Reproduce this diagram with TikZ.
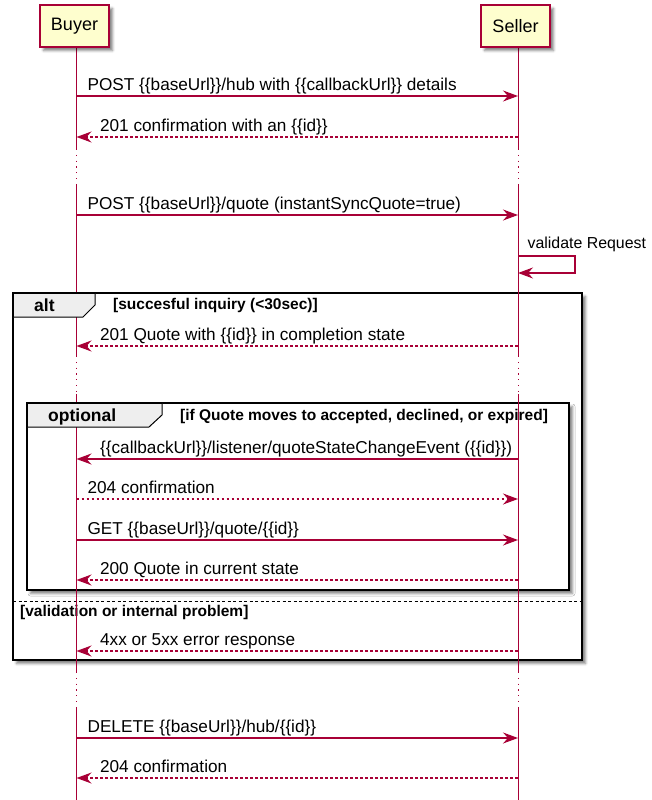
\documentclass[tikz,border=0pt]{standalone}
\usepackage{fontspec}
\setmainfont{Liberation Sans}
\usetikzlibrary{arrows.meta,shadows.blur}

\definecolor{lifered}{HTML}{A80036}
\definecolor{partfill}{HTML}{FEFECE}
\definecolor{tabfill}{HTML}{EEEEEE}

\begin{document}
\begin{tikzpicture}[x=1pt,y=-1pt,
  softshadow/.style={blur shadow={shadow xshift=3.5pt,shadow yshift=-3.5pt,
      shadow blur radius=2.5pt,shadow opacity=50}},
  part/.style={draw=lifered,line width=1.5pt,fill=partfill,minimum width=69pt,
      minimum height=42pt,inner sep=0pt,font=\fontsize{18}{21}\selectfont,softshadow},
  life/.style={draw=lifered,line width=1pt},
  lifegap/.style={life,dash pattern=on 1.2pt off 4.6pt},
  call/.style={draw=lifered,line width=1.2pt,
      -{Stealth[length=15pt,width=11pt,inset=5pt]}},
  reply/.style={call,dash pattern=on 2.6pt off 2.4pt},
  lbl/.style={inner sep=0pt,font=\fontsize{17.2}{20}\selectfont,text=black},
  fwd/.style={lbl,anchor=base west,xshift=10.5pt,yshift=6pt},
  back/.style={lbl,anchor=base west,xshift=23pt,yshift=6pt},
  framebody/.style={fill=white,softshadow},
  frameedge/.style={draw=black,line width=2.5pt},
  tabshape/.style={fill=tabfill,draw=black,line width=1pt},
  tablabel/.style={inner sep=0pt,anchor=base west,font=\fontsize{17.5}{20}\bfseries\selectfont},
  guard/.style={inner sep=0pt,anchor=base west,font=\fontsize{15.5}{18}\bfseries\selectfont},
  elseline/.style={draw=black,line width=1pt,dash pattern=on 3pt off 2.5pt}
]
\useasboundingbox (0,0) rectangle (652,800);

% lifeline columns
\coordinate (bl) at (76.5,0);
\coordinate (sl) at (518,0);
\coordinate (selfx) at (575,0);

% message rows
\coordinate (top) at (0,47);
\coordinate (r1) at (0,96);
\coordinate (r2) at (0,137);
\coordinate (g1a) at (0,149);
\coordinate (g1b) at (0,184);
\coordinate (r3) at (0,215);
\coordinate (r4a) at (0,256);
\coordinate (r4b) at (0,273);
\coordinate (r5) at (0,346);
\coordinate (g2a) at (0,356);
\coordinate (g2b) at (0,394);
\coordinate (r6) at (0,459);
\coordinate (r7) at (0,499);
\coordinate (r8) at (0,540);
\coordinate (r9) at (0,580);
\coordinate (r10) at (0,651);
\coordinate (g3a) at (0,672);
\coordinate (g3b) at (0,707);
\coordinate (r11) at (0,738);
\coordinate (r12) at (0,778);
\coordinate (bottom) at (0,800);

% alt frame and nested optional frame
\path[framebody] (13,293) rectangle (582,660);
\draw[frameedge] (13,293) rectangle (582,660);
\path[framebody] (27,403) rectangle (569,590);
\draw[frameedge] (27,403) rectangle (569,590);

% else separator
\draw[elseline] (13,601) -- (582,601);
\node[guard] (elseguard) at (20,616.5) {[validation or internal problem]};

% lifelines
\foreach \c in {bl,sl}{
  \draw[life] (\c |- top) -- (\c |- g1a);
  \draw[lifegap] (\c |- g1a) -- (\c |- g1b);
  \draw[life] (\c |- g1b) -- (\c |- g2a);
  \draw[lifegap] (\c |- g2a) -- (\c |- g2b);
  \draw[life] (\c |- g2b) -- (\c |- g3a);
  \draw[lifegap] (\c |- g3a) -- (\c |- g3b);
  \draw[life] (\c |- g3b) -- (\c |- bottom);
}

% frame tabs and guards
\draw[tabshape] (13,293) -- (95,293) -- (95,305) -- (83,317) -- (13,317) -- cycle;
\draw[frameedge] (13,317) -- (13,293) -- (95,293);
\node[tablabel] (alttab) at (34,311.5) {alt};
\node[guard] (altguard) at (113,309.5) {[succesful inquiry (<30sec)]};

\draw[tabshape] (27,403) -- (162,403) -- (162,415) -- (149,427) -- (27,427) -- cycle;
\draw[frameedge] (27,427) -- (27,403) -- (162,403);
\node[tablabel] (opttab) at (48,421) {optional};
\node[guard] (optguard) at (180,420.5) {[if Quote moves to accepted, declined, or expired]};

% participants
\node[part] (buyer) at (74.5,26) {Buyer};
\node[part] (seller) at (515.5,26) {Seller};

% messages
\draw[call] (bl |- r1) node[fwd] {POST \{\{baseUrl\}\}/hub with \{\{callbackUrl\}\} details} -- (sl |- r1);
\draw[reply] (sl |- r2) -- (bl |- r2) node[back] {201 confirmation with an \{\{id\}\}};
\draw[call] (bl |- r3) node[fwd] {POST \{\{baseUrl\}\}/quote (instantSyncQuote=true)} -- (sl |- r3);
\draw[call] (sl |- r4a) node[lbl,anchor=base west,xshift=9pt,yshift=8pt,font=\fontsize{15.9}{18}\selectfont] {validate Request}
  -- (selfx |- r4a) -- (selfx |- r4b) -- (sl |- r4b);
\draw[reply] (sl |- r5) -- (bl |- r5) node[back] {201 Quote with \{\{id\}\} in completion state};
\draw[call] (sl |- r6) -- (bl |- r6) node[back] {\{\{callbackUrl\}\}/listener/quoteStateChangeEvent (\{\{id\}\})};
\draw[reply] (bl |- r7) node[fwd] {204 confirmation} -- (sl |- r7);
\draw[call] (bl |- r8) node[fwd] {GET \{\{baseUrl\}\}/quote/\{\{id\}\}} -- (sl |- r8);
\draw[reply] (sl |- r9) -- (bl |- r9) node[back] {200 Quote in current state};
\draw[reply] (sl |- r10) -- (bl |- r10) node[back] {4xx or 5xx error response};
\draw[call] (bl |- r11) node[fwd] {DELETE \{\{baseUrl\}\}/hub/\{\{id\}\}} -- (sl |- r11);
\draw[reply] (sl |- r12) -- (bl |- r12) node[back] {204 confirmation};
\end{tikzpicture}
\end{document}
